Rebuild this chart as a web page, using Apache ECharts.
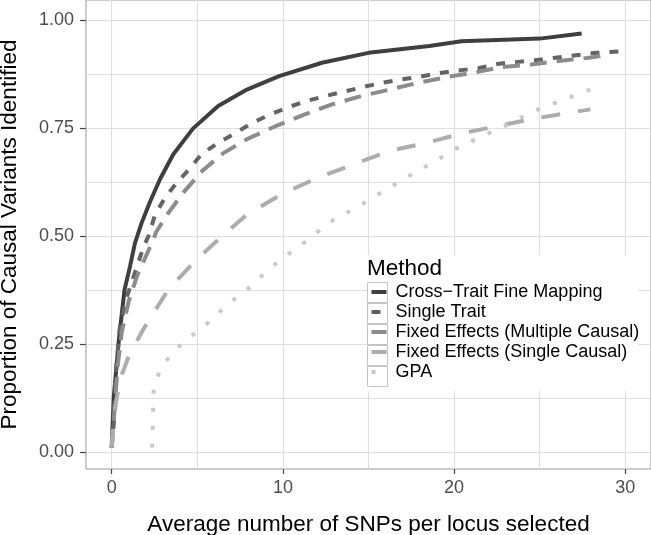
<!DOCTYPE html>
<html>
<head>
<meta charset="utf-8">
<script src="https://cdn.jsdelivr.net/npm/echarts@6/dist/echarts.min.js"></script>
<style>
  html, body { margin: 0; padding: 0; background: #fff; }
  #chart { width: 651px; height: 535px; }
</style>
</head>
<body>
<div id="chart"></div>
<script>
// 方法名称
const methodNames = [
  'Cross\u2212Trait Fine Mapping',
  'Single Trait',
  'Fixed Effects (Multiple Causal)',
  'Fixed Effects (Single Causal)',
  'GPA'
]

// 各方法曲线 (x: 平均SNP数, y: 识别比例)
const crossTraitX = [0, 0.125, 0.42, 0.75, 1.07, 1.36, 1.75, 2.24, 2.82, 3.6, 4.76, 6.22, 7.9, 9.78, 12.28, 15.0, 18.55, 20.43, 25.0, 27.45]
const crossTraitY = [0.01, 0.129, 0.26, 0.376, 0.43, 0.484, 0.531, 0.58, 0.632, 0.69, 0.75, 0.802, 0.84, 0.871, 0.902, 0.925, 0.941, 0.952, 0.958, 0.97]

const singleTraitX = [0, 0.125, 0.27, 0.48, 0.9, 1.42, 1.84, 2.2, 2.53, 3.11, 3.8, 4.57, 5.2, 6.15, 7.27, 8.21, 9.25, 10.3, 11.34, 12.49, 13.54, 14.69, 15.83, 16.88, 18.03, 19.28, 20.22, 21.47, 22.62, 24.74, 26.0, 27.0, 28.28, 29.62]
const singleTraitY = [0.01, 0.067, 0.199, 0.291, 0.361, 0.423, 0.473, 0.505, 0.55, 0.589, 0.624, 0.657, 0.688, 0.715, 0.74, 0.763, 0.782, 0.799, 0.813, 0.825, 0.835, 0.846, 0.856, 0.863, 0.87, 0.879, 0.884, 0.89, 0.9, 0.908, 0.914, 0.919, 0.925, 0.928]

const fixedMultiX = [0, 0.15, 0.35, 0.6, 1.0, 1.5, 1.9, 2.24, 2.63, 3.31, 4.18, 5.3, 6.5, 7.9, 9.57, 11.24, 12.91, 14.58, 16.25, 17.92, 19.6, 21.27, 22.73, 24.5, 26.5, 28.0, 28.6]
const fixedMultiY = [0.01, 0.09, 0.2, 0.28, 0.35, 0.41, 0.445, 0.475, 0.512, 0.554, 0.601, 0.652, 0.692, 0.725, 0.755, 0.782, 0.806, 0.825, 0.84, 0.856, 0.869, 0.88, 0.892, 0.898, 0.908, 0.914, 0.918]

const fixedSingleX = [0, 0.1, 0.27, 0.6, 1.0, 1.84, 3.3, 4.76, 6.43, 7.9, 9.99, 12.07, 14.16, 16.25, 18.55, 20.64, 22.73, 25.03, 27.95]
const fixedSingleY = [0.01, 0.06, 0.121, 0.18, 0.222, 0.284, 0.376, 0.438, 0.5, 0.55, 0.599, 0.636, 0.667, 0.698, 0.718, 0.74, 0.757, 0.775, 0.794]

const gpaX = [2.36, 2.4, 2.42, 2.46, 2.88, 3.55, 4.35, 5.29, 6.12, 6.96, 7.9, 8.73, 9.57, 10.4, 11.34, 12.18, 13.12, 14.16, 15.1, 16.04, 17.09, 18.03, 19.07, 20.01, 21.06, 22.1, 23.15, 24.09, 25.13, 26.17, 27.22, 28.37, 28.7]
const gpaY = [0.01, 0.06, 0.105, 0.152, 0.195, 0.23, 0.26, 0.287, 0.318, 0.348, 0.376, 0.407, 0.436, 0.461, 0.488, 0.515, 0.543, 0.563, 0.586, 0.609, 0.633, 0.655, 0.678, 0.701, 0.721, 0.74, 0.759, 0.779, 0.798, 0.813, 0.829, 0.846, 0.852]

// 刻度
const xTickValues = [0, 10, 20, 30]
const xGridValues = [0, 5, 10, 15, 20, 25, 30]
const yTickValues = [0, 0.25, 0.5, 0.75, 1]
const yGridValues = [0, 0.125, 0.25, 0.375, 0.5, 0.625, 0.75, 0.875, 1]

const fontFamily = 'Liberation Sans, Arial, sans-serif'
const xMin = -1.5
const xMax = 31.5
const yMin = -0.0394
const yMax = 1.0475

const zip = (xs, ys) => xs.map((x, i) => [x, ys[i]])

const seriesStyles = [
  { color: '#3f3f3f', type: 'solid' },
  { color: '#646464', type: [9, 10] },
  { color: '#8c8c8c', type: [17, 10] },
  { color: '#adadad', type: [19, 18] },
  { color: '#c9c9c9', type: [4, 14] }
]
const seriesData = [
  zip(crossTraitX, crossTraitY),
  zip(singleTraitX, singleTraitY),
  zip(fixedMultiX, fixedMultiY),
  zip(fixedSingleX, fixedSingleY),
  zip(gpaX, gpaY)
]

const myChart = echarts.init(document.getElementById('chart'))
const option = {
  animation: false,
  textStyle: { fontFamily: fontFamily },
  grid: {
    left: 86,
    right: 0,
    top: 0,
    bottom: 66,
    show: true,
    borderColor: '#9b9b9b',
    borderWidth: 1,
    containLabel: false,
    outerBoundsMode: 'none'
  },
  title: {
    text: 'Method',
    left: 367,
    top: 257,
    padding: 0,
    z: 10,
    textStyle: { fontSize: 22.5, fontWeight: 'normal', color: '#000', fontFamily: fontFamily }
  },
  legend: [
    {
      data: methodNames,
      orient: 'vertical',
      left: 367,
      top: 255,
      padding: [27, 2, 4, 0],
      itemWidth: 20,
      itemHeight: 20,
      itemGap: 0,
      icon: 'rect',
      itemStyle: { color: '#fff', borderColor: '#c4c4c4', borderWidth: 1 },
      textStyle: { fontSize: 18, lineHeight: 20, color: 'rgba(0,0,0,0)', fontFamily: fontFamily },
      backgroundColor: '#fff',
      selectedMode: false,
      z: 5
    },
    {
      data: methodNames,
      orient: 'vertical',
      left: 369.5,
      top: 282,
      padding: 0,
      itemWidth: 15,
      itemHeight: 20,
      itemGap: 0,
      itemStyle: { opacity: 0 },
      lineStyle: { width: 4, cap: 'butt' },
      textStyle: { fontSize: 18, lineHeight: 20, color: '#000', padding: [0, 0, 0, 4], fontFamily: fontFamily },
      selectedMode: false,
      z: 6
    }
  ],
  xAxis: [
    {
      type: 'value',
      min: xMin,
      max: xMax,
      axisLine: { show: false, onZero: false },
      axisTick: { show: false, customValues: xGridValues },
      axisLabel: { show: false },
      splitLine: { show: true, lineStyle: { color: '#dedede', width: 1.2 } }
    },
    {
      type: 'value',
      min: xMin,
      max: xMax,
      position: 'bottom',
      axisLine: { show: false, onZero: false },
      axisTick: { show: true, customValues: xTickValues, length: 5, lineStyle: { color: '#444', width: 1.2 } },
      axisLabel: { customValues: xTickValues, fontSize: 18, color: '#4d4d4d', margin: 10, fontFamily: fontFamily },
      splitLine: { show: false },
      name: 'Average number of SNPs per locus selected',
      nameLocation: 'middle',
      nameGap: 44,
      nameTextStyle: { fontSize: 22.5, color: '#000', fontFamily: fontFamily }
    }
  ],
  yAxis: [
    {
      type: 'value',
      min: yMin,
      max: yMax,
      axisLine: { show: false, onZero: false },
      axisTick: { show: false, customValues: yGridValues },
      axisLabel: { show: false },
      splitLine: { show: true, lineStyle: { color: '#dedede', width: 1.2 } }
    },
    {
      type: 'value',
      min: yMin,
      max: yMax,
      position: 'left',
      axisLine: { show: false, onZero: false },
      axisTick: { show: true, customValues: yTickValues, length: 6, lineStyle: { color: '#444', width: 1.2 } },
      axisLabel: {
        customValues: yTickValues,
        fontSize: 18,
        color: '#4d4d4d',
        margin: 12,
        fontFamily: fontFamily,
        formatter: v => v.toFixed(2)
      },
      splitLine: { show: false },
      name: 'Proportion of Causal Variants Identified',
      nameLocation: 'middle',
      nameGap: 65,
      nameTextStyle: { fontSize: 22.5, color: '#000', fontFamily: fontFamily }
    }
  ],
  series: methodNames.map((name, i) => ({
    name: name,
    type: 'line',
    xAxisIndex: 0,
    yAxisIndex: 0,
    symbol: 'none',
    showSymbol: false,
    color: seriesStyles[i].color,
    lineStyle: { color: seriesStyles[i].color, width: 4, type: seriesStyles[i].type, cap: 'butt' },
    data: seriesData[i]
  }))
}
myChart.setOption(option)
</script>
</body>
</html>
